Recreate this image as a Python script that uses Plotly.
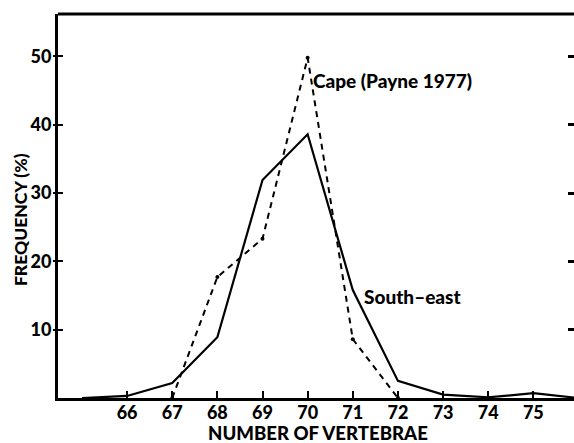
import plotly.graph_objects as go

# number of vertebrae and frequency (%)
se_vertebrae = [65, 66, 67, 68, 69, 70, 71, 72, 73, 74, 75, 76]
se_freq = [0, 0.3, 2.2, 8.9, 31.9, 38.6, 15.8, 2.5, 0.5, 0.1, 0.7, 0]

cape_vertebrae = [67, 68, 69, 70, 71, 72]
cape_freq = [0, 17.7, 23.3, 49.8, 8.6, 0]

x_ticks = [66, 67, 68, 69, 70, 71, 72, 73, 74, 75]
y_ticks = [10, 20, 30, 40, 50]

FONT = "Lato"
BOLD = 900

fig = go.Figure()

fig.add_trace(go.Scatter(
    x=cape_vertebrae, y=cape_freq,
    mode="lines+markers", name="Cape (Payne 1977)",
    line=dict(color="black", width=2, dash="6px,5px"),
    marker=dict(size=4, color="black"),
))

fig.add_trace(go.Scatter(
    x=se_vertebrae, y=se_freq,
    mode="lines", name="South-east",
    line=dict(color="black", width=2.2),
))

# invisible traces to carry the extra tick axes (right side, left outer stubs)
for ax in ["y2", "y3"]:
    fig.add_trace(go.Scatter(x=[70], y=[0], yaxis=ax, mode="markers",
                             marker=dict(opacity=0), hoverinfo="skip",
                             showlegend=False))

label_font = dict(family=FONT, size=19, color="black", weight=BOLD)

fig.add_annotation(x=70.08, y=46.5, text="Cape (Payne 1977)", showarrow=False,
                   xanchor="left", yanchor="middle", font=label_font)
fig.add_annotation(x=71.2, y=14.8, text="South\u2013east", showarrow=False,
                   xanchor="left", yanchor="middle", font=label_font)

# axis titles
fig.add_annotation(x=0.504, y=-0.091, xref="paper", yref="paper",
                   text="NUMBER OF VERTEBRAE", showarrow=False,
                   xanchor="center", yanchor="middle",
                   font=dict(family=FONT, size=18.6, color="black", weight=BOLD))
fig.add_annotation(x=-0.0736, y=0.4635, xref="paper", yref="paper",
                   text="FREQUENCY (%)", showarrow=False, textangle=-90,
                   xanchor="center", yanchor="middle",
                   font=dict(family=FONT, size=17.5, color="black", weight=BOLD))

tick_font = dict(family=FONT, size=18, color="black", weight=BOLD)

fig.update_layout(
    width=574, height=443,
    margin=dict(l=58, r=0, t=14, b=45),
    plot_bgcolor="white", paper_bgcolor="white",
    showlegend=False,
    xaxis=dict(
        range=[64.47, 75.9], tickvals=x_ticks, ticks="inside", ticklen=7,
        tickwidth=2, tickcolor="black", showgrid=False, zeroline=False,
        showline=True, linecolor="black", linewidth=3, automargin=False,
        tickfont=tick_font, ticklabelstandoff=-4,
    ),
    yaxis=dict(
        range=[0, 56.2], tickvals=y_ticks, ticks="inside", ticklen=5,
        tickwidth=2, tickcolor="black", showgrid=False, zeroline=False,
        showline=True, linecolor="black", linewidth=3, automargin=False,
        tickfont=tick_font, ticklabelstandoff=0,
    ),
    yaxis2=dict(
        range=[0, 56.2], tickvals=y_ticks, ticks="inside", ticklen=6,
        tickwidth=2.5, tickcolor="black", showticklabels=False,
        showgrid=False, zeroline=False, showline=False, automargin=False,
        overlaying="y", side="right",
    ),
    yaxis3=dict(
        range=[0, 56.2], tickvals=y_ticks, ticks="outside", ticklen=4,
        tickwidth=2, tickcolor="black", showticklabels=False,
        showgrid=False, zeroline=False, showline=False, automargin=False,
        overlaying="y", side="left",
    ),
)

# top border
fig.add_shape(type="line", xref="paper", yref="paper", x0=0, x1=1, y0=1, y1=1,
              line=dict(color="black", width=3))

# drop the default page margin so the figure fills the window exactly
fig.write_html("out.html", config={"displayModeBar": False},
               post_script="document.body.style.margin = '0';")
